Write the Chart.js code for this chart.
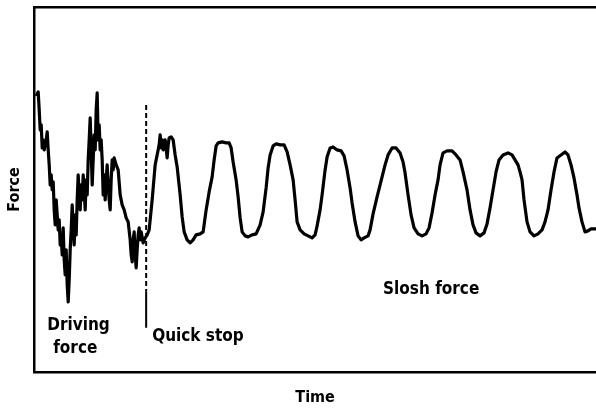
<!DOCTYPE html>
<html>
<head>
<meta charset="utf-8">
<script src="https://cdn.jsdelivr.net/npm/chart.js@4.4.1/dist/chart.umd.min.js"></script>
<style>
  html, body { margin: 0; padding: 0; background: #fff; }
  #wrap { width: 596px; height: 412px; }
</style>
</head>
<body>
<div id="wrap"><canvas id="forceChart" width="596" height="412"></canvas></div>
<script>
// Valores (unidades arbitrarias)
const time = [2, 4, 5, 6, 7, 8, 9, 10, 12, 13, 14, 15, 16, 17, 18, 19, 20, 21, 22, 23, 24, 25, 26, 27, 28, 29, 30, 31, 32, 33, 34, 35, 36, 37, 38, 39, 40, 41, 42, 43, 44, 45, 46, 47, 48, 49, 50, 51, 52, 53, 54, 55, 56, 57, 58, 59, 60, 61, 62, 63, 64, 65, 66, 67, 68, 69, 70, 71, 72, 73, 74, 75, 76, 77, 78, 79, 80, 82, 84, 86, 88, 90, 92, 94, 96, 97, 98, 99, 100, 101, 102, 103, 104, 105, 106, 107, 109, 111, 113, 115,
  118, 121, 123, 125, 126, 127, 128, 129, 131, 133, 134, 135, 137, 139, 141, 143, 146, 148, 150, 153, 156, 159, 162, 166, 169, 172, 175, 178, 180, 182, 184, 188, 192, 195, 197, 199, 202, 204, 206, 208, 211, 214, 218, 222,
  226, 229, 232, 234, 236, 239, 242, 246, 250, 253, 256, 259, 261, 263, 266, 270, 274, 278, 281, 283, 286, 288, 291, 293, 296, 299, 303, 307, 310, 313, 316, 318, 321, 324, 327, 330, 334,
  336, 339, 343, 346, 348, 351, 354, 358, 362, 366, 369, 371, 374, 377, 380, 384, 388, 392, 395, 398, 401, 404, 406, 409, 413, 418, 422, 426, 429, 433, 436, 439, 442, 446, 450, 453, 456, 459, 462, 465, 469, 474, 478, 481, 484, 486, 488, 490, 493, 496, 500, 504, 508, 511, 514, 517, 520, 523, 527, 531, 534, 537, 540, 543, 545, 548, 551, 554, 557, 562];
const force = [276, 280, 262, 242, 247, 224, 232, 222, 232, 240, 222, 207, 187, 197, 182, 190, 162, 147, 172, 157, 142, 152, 127, 137, 117, 144, 112, 97, 122, 87, 70, 92, 122, 142, 167, 147, 127, 157, 137, 172, 197, 177, 162, 187, 172, 197, 182, 162, 192, 177, 212, 232, 254, 222, 187, 212, 237, 222, 262, 279, 232, 247, 222, 232, 212, 177, 197, 172, 192, 207, 187, 172, 162, 192, 212, 202, 214, 207, 202, 177, 167, 162, 154, 150, 132, 117, 110, 132, 140, 117, 104, 122, 137, 144, 132, 140, 129, 134, 137, 142,
  172, 207, 217, 227, 237, 224, 232, 222, 232, 214, 227, 234, 235, 232, 217, 205, 177, 155, 140, 132, 129, 132, 137, 138, 140, 162, 180, 195, 212, 226, 229, 230, 229, 229, 224, 210, 192, 175, 154, 140, 136, 135, 137, 138,
  147, 160, 184, 204, 217, 226, 228, 227, 227, 220, 207, 192, 172, 150, 142, 138, 136, 134, 137, 146, 162, 177, 202, 215, 224, 225, 222, 221, 216, 202, 184, 169, 150, 136, 132, 134, 136,
  142, 158, 175, 187, 195, 207, 217, 224, 224, 219, 210, 199, 177, 157, 144, 138, 136, 138, 144, 159, 177, 192, 207, 219, 221, 221, 217, 212, 200, 182, 162, 147, 139, 136, 139, 148, 164, 182, 200, 212, 217, 219, 217, 212, 207, 200, 192, 172, 150, 140, 136, 138, 142, 150, 162, 182, 200, 214, 217, 220, 217, 207, 194, 177, 164, 150, 140, 141, 143, 143];

// Momento de la parada rápida
const quickStopTime = 112;
const quickStopDashed = [267, 80];
const quickStopSolid = [80, 44];

const fontFamily = '"DejaVu Sans Condensed", "DejaVu Sans", sans-serif';

// Textos sobre la curva
const labelsPlugin = {
    id: 'labelsPlugin',
    afterDatasetsDraw(chart) {
        const ctx = chart.ctx;
        const x = chart.scales.x;
        const y = chart.scales.y;
        ctx.save();
        ctx.fillStyle = '#000';
        ctx.font = 'bold 17px ' + fontFamily;
        ctx.textBaseline = 'middle';
        ctx.textAlign = 'left';
        ctx.fillText('Driving', x.getPixelForValue(13), y.getPixelForValue(46));
        ctx.fillText('force', x.getPixelForValue(19), y.getPixelForValue(23));
        ctx.fillText('Quick stop', x.getPixelForValue(118), y.getPixelForValue(35));
        ctx.fillText('Slosh force', x.getPixelForValue(349), y.getPixelForValue(82));
        ctx.restore();
    }
};

function initializeForceChart() {
    const ctx = document.getElementById('forceChart').getContext('2d');

    const trace = time.map((t, i) => ({ x: t, y: force[i] }));

    new Chart(ctx, {
        type: 'line',
        data: {
            datasets: [{
                label: 'Force',
                data: trace,
                borderColor: '#000',
                borderWidth: 3.2,
                borderJoinStyle: 'round',
                pointRadius: 0,
                tension: 0,
                fill: false
            }, {
                label: 'Quick stop',
                data: quickStopDashed.map(v => ({ x: quickStopTime, y: v })),
                borderColor: '#000',
                borderWidth: 2,
                borderDash: [5, 3],
                pointRadius: 0,
                fill: false
            }, {
                label: 'Quick stop (solid)',
                data: quickStopSolid.map(v => ({ x: quickStopTime, y: v })),
                borderColor: '#000',
                borderWidth: 2,
                pointRadius: 0,
                fill: false
            }]
        },
        options: {
            responsive: false,
            animation: false,
            layout: { padding: { top: 7, left: 5, right: 0, bottom: 0 } },
            plugins: {
                legend: { display: false },
                tooltip: { enabled: false }
            },
            scales: {
                x: {
                    type: 'linear',
                    min: 0,
                    max: 562,
                    grid: { display: false, drawTicks: false },
                    border: { display: true, color: '#000', width: 2.5 },
                    ticks: { display: false },
                    title: {
                        display: true,
                        text: 'Time',
                        color: '#000',
                        font: { family: fontFamily, size: 16, weight: 'bold' },
                        padding: { top: 16, bottom: 5 }
                    }
                },
                xTop: {
                    type: 'linear',
                    position: 'top',
                    min: 0,
                    max: 562,
                    grid: { display: false, drawTicks: false },
                    border: { display: true, color: '#000', width: 2.5 },
                    ticks: { display: false }
                },
                y: {
                    min: 0,
                    max: 365,
                    grid: { display: false, drawTicks: false },
                    border: { display: true, color: '#000', width: 2.5 },
                    ticks: { display: false },
                    title: {
                        display: true,
                        text: 'Force',
                        color: '#000',
                        font: { family: fontFamily, size: 16, weight: 'bold' },
                        padding: { top: 0, bottom: 10 }
                    }
                }
            }
        },
        plugins: [labelsPlugin]
    });
}

document.addEventListener('DOMContentLoaded', function() {
    initializeForceChart();
});
</script>
</body>
</html>
